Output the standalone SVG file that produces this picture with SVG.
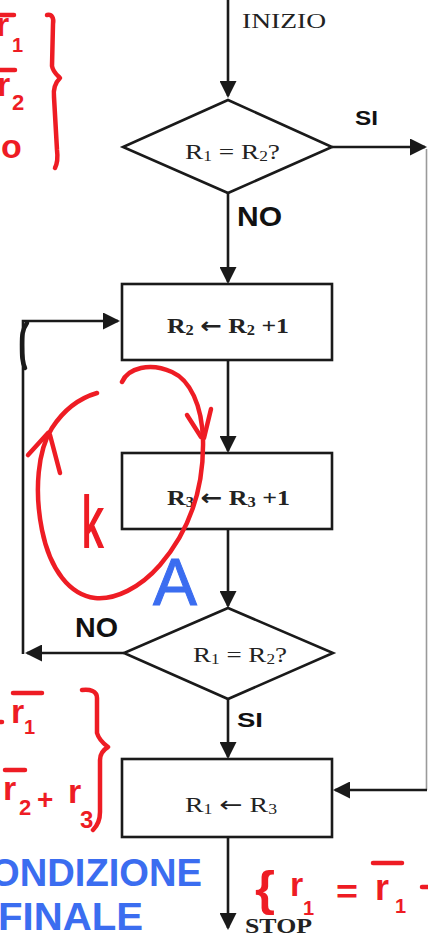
<svg xmlns="http://www.w3.org/2000/svg" width="428" height="937" viewBox="0 0 428 937">
<style>
.shape{fill:#fff;stroke:#1a1a1a;stroke-width:2.6}
.conn{fill:none;stroke:#1a1a1a;stroke-width:2.6}
.faint{fill:none;stroke:#9a9a9a;stroke-width:1.6}
.lbl{font-family:"Liberation Serif",serif;font-size:22px;fill:#222}
.b{font-weight:bold}
.sub{font-size:14px}
.ar{font-family:"DejaVu Sans",sans-serif;font-size:22px}
.hand{font-family:"Liberation Sans",sans-serif;font-weight:bold;fill:#111}
.red{font-family:"Liberation Sans",sans-serif;fill:#ee1c24}
.redl{fill:none;stroke:#ee1c24;stroke-width:4.5;stroke-linecap:round;stroke-linejoin:round}
.blue{font-family:"Liberation Sans",sans-serif;font-weight:bold;fill:#3b6df0}
</style>
<defs>
<marker id="arr" viewBox="0 0 17 17" refX="15" refY="8.5" markerWidth="17" markerHeight="17" markerUnits="userSpaceOnUse" orient="auto">
<path d="M0,0 L17,8.5 L0,17 z" fill="#1a1a1a"/>
</marker>
</defs>
<rect width="428" height="937" fill="#fff"/>

<g id="connectors">
<path class="conn" d="M228,0 V96" marker-end="url(#arr)"/>
<path class="conn" d="M228,193 V282" marker-end="url(#arr)"/>
<path class="conn" d="M228,360 V451" marker-end="url(#arr)"/>
<path class="conn" d="M228,529 V606" marker-end="url(#arr)"/>
<path class="conn" d="M228,699 V757" marker-end="url(#arr)"/>
<path class="conn" d="M228,837 V928" marker-end="url(#arr)"/>
<path class="conn" d="M332,147 H425" marker-end="url(#arr)"/>
<path class="faint" d="M426.5,149 V790"/>
<path class="conn" d="M427,790 H335" marker-end="url(#arr)"/>
<path class="conn" d="M124,653 H27" marker-end="url(#arr)"/>
<path class="conn" d="M23,654 V321 H118" marker-end="url(#arr)"/>
<path d="M27,323 C22,330 22,336 22,345 C22,355 22,362 25,368" fill="none" stroke="#1a1a1a" stroke-width="4.5" stroke-linecap="round"/>
</g>

<g id="start">
<text class="lbl" x="242" y="28" textLength="84" lengthAdjust="spacingAndGlyphs">INIZIO</text>
</g>

<g id="decision1">
<polygon class="shape" points="228,100 332,147 228,193 123,147"/>
<text class="lbl" x="185" y="159" textLength="95" lengthAdjust="spacingAndGlyphs">R<tspan class="sub" dy="2">1</tspan><tspan dy="-2"> = R</tspan><tspan class="sub" dy="2">2</tspan><tspan dy="-2">?</tspan></text>
</g>

<g id="box1">
<rect class="shape" x="122" y="284" width="210" height="76"/>
<text class="lbl b" x="167" y="333" textLength="122" lengthAdjust="spacingAndGlyphs">R<tspan class="sub" dy="2">2</tspan><tspan dy="-2"> </tspan><tspan class="ar">←</tspan><tspan> R</tspan><tspan class="sub" dy="2">2</tspan><tspan dy="-2"> +1</tspan></text>
</g>

<g id="box2">
<rect class="shape" x="122" y="453" width="210" height="76"/>
<text class="lbl b" x="167" y="505" textLength="123" lengthAdjust="spacingAndGlyphs">R<tspan class="sub" dy="2">3</tspan><tspan dy="-2"> </tspan><tspan class="ar">←</tspan><tspan> R</tspan><tspan class="sub" dy="2">3</tspan><tspan dy="-2"> +1</tspan></text>
</g>

<g id="decision2">
<polygon class="shape" points="228,608 333,653 228,699 124,653"/>
<text class="lbl" x="193" y="662" textLength="94" lengthAdjust="spacingAndGlyphs">R<tspan class="sub" dy="2">1</tspan><tspan dy="-2"> = R</tspan><tspan class="sub" dy="2">2</tspan><tspan dy="-2">?</tspan></text>
</g>

<g id="box3">
<rect class="shape" x="122" y="759" width="210" height="78"/>
<text class="lbl" x="185" y="812" textLength="92" lengthAdjust="spacingAndGlyphs">R<tspan class="sub" dy="2">1</tspan><tspan dy="-2"> </tspan><tspan class="ar">←</tspan><tspan> R</tspan><tspan class="sub" dy="2">3</tspan></text>
</g>

<g id="stop">
<text class="lbl b" x="245" y="933" textLength="67" lengthAdjust="spacingAndGlyphs">STOP</text>
</g>

<g id="hand-labels">
<text class="hand" x="355" y="125" font-size="20" textLength="23" lengthAdjust="spacingAndGlyphs">SI</text>
<text class="hand" x="237" y="226" font-size="27" textLength="45" lengthAdjust="spacingAndGlyphs">NO</text>
<text class="hand" x="75" y="637" font-size="27" textLength="43" lengthAdjust="spacingAndGlyphs">NO</text>
<text class="hand" x="237" y="727" font-size="20" textLength="26" lengthAdjust="spacingAndGlyphs">SI</text>
</g>

<g id="annot-top-left">
<path class="redl" d="M0,15 H14 M0,70 H15"/>
<text class="red" x="-4" y="36" font-size="34" font-weight="bold">r</text>
<text class="red" x="12" y="52" font-size="20" font-weight="bold">1</text>
<text class="red" x="-3" y="96" font-size="34" font-weight="bold">r</text>
<text class="red" x="12" y="110" font-size="22" font-weight="bold">2</text>
<text class="red" x="1" y="158" font-size="34" font-weight="bold">o</text>
<path class="redl" d="M47,15 C52,14 54,18 53,24 L52,66 C53,72 57,75 60,78 C56,82 53,88 54,97 L57,150 C58,158 57,164 55,168"/>
</g>

<g id="annot-loop">
<path class="redl" stroke-width="5" d="M122,382 C128,368 150,362 172,372 C190,380 202,405 203,440 C204,490 190,530 160,565 C140,588 115,600 95,598 C70,595 50,570 42,530 C34,490 38,450 52,428 C65,408 80,398 97,393"/>
<path class="redl" d="M187,415 L201,437 M211,409 L204,438 M28,455 L48,433 M60,473 L50,435"/>
<text class="red" x="82" y="547" font-size="72" stroke="#ee1c24" stroke-width="2" textLength="21" lengthAdjust="spacingAndGlyphs">k</text>
<text class="blue" x="153" y="605" font-size="66" style="font-weight:normal" stroke="#3b6df0" stroke-width="1" textLength="44" lengthAdjust="spacingAndGlyphs">A</text>
</g>

<g id="annot-bottom-left">
<path class="redl" d="M0,722 L2,722"/>
<path class="redl" d="M13,693 H42 M5,770 H25"/>
<text class="red" x="11" y="723" font-size="34" font-weight="bold">r</text>
<text class="red" x="24" y="734" font-size="20" font-weight="bold">1</text>
<text class="red" x="3" y="800" font-size="34" font-weight="bold">r</text>
<text class="red" x="19" y="815" font-size="22" font-weight="bold">2</text>
<text class="red" x="37" y="809" font-size="28" font-weight="bold">+</text>
<text class="red" x="68" y="803" font-size="34" font-weight="bold">r</text>
<text class="red" x="80" y="828" font-size="24" font-weight="bold">3</text>
<path class="redl" d="M82,690 C90,689 97,691 97,698 L97,733 C99,740 104,744 108,747 C103,750 100,754 100,760 L100,812 C100,820 97,826 93,830"/>
<text class="blue" x="-10" y="886" font-size="38" textLength="212" lengthAdjust="spacingAndGlyphs">ONDIZIONE</text>
<text class="blue" x="-2" y="930" font-size="38" textLength="145" lengthAdjust="spacingAndGlyphs">FINALE</text>
</g>

<g id="annot-bottom-right">
<text class="red" x="255" y="905" font-size="48" font-weight="bold" textLength="20" lengthAdjust="spacingAndGlyphs">{</text>
<text class="red" x="290" y="896" font-size="34" font-weight="bold">r</text>
<text class="red" x="303" y="915" font-size="20" font-weight="bold">1</text>
<text class="red" x="336" y="903" font-size="34" font-weight="bold" textLength="22" lengthAdjust="spacingAndGlyphs">=</text>
<path class="redl" d="M373,863 H402"/>
<text class="red" x="375" y="900" font-size="36" font-weight="bold">r</text>
<text class="red" x="395" y="913" font-size="20" font-weight="bold">1</text>
<path class="redl" d="M422,887 H430"/>
</g>
</svg>
